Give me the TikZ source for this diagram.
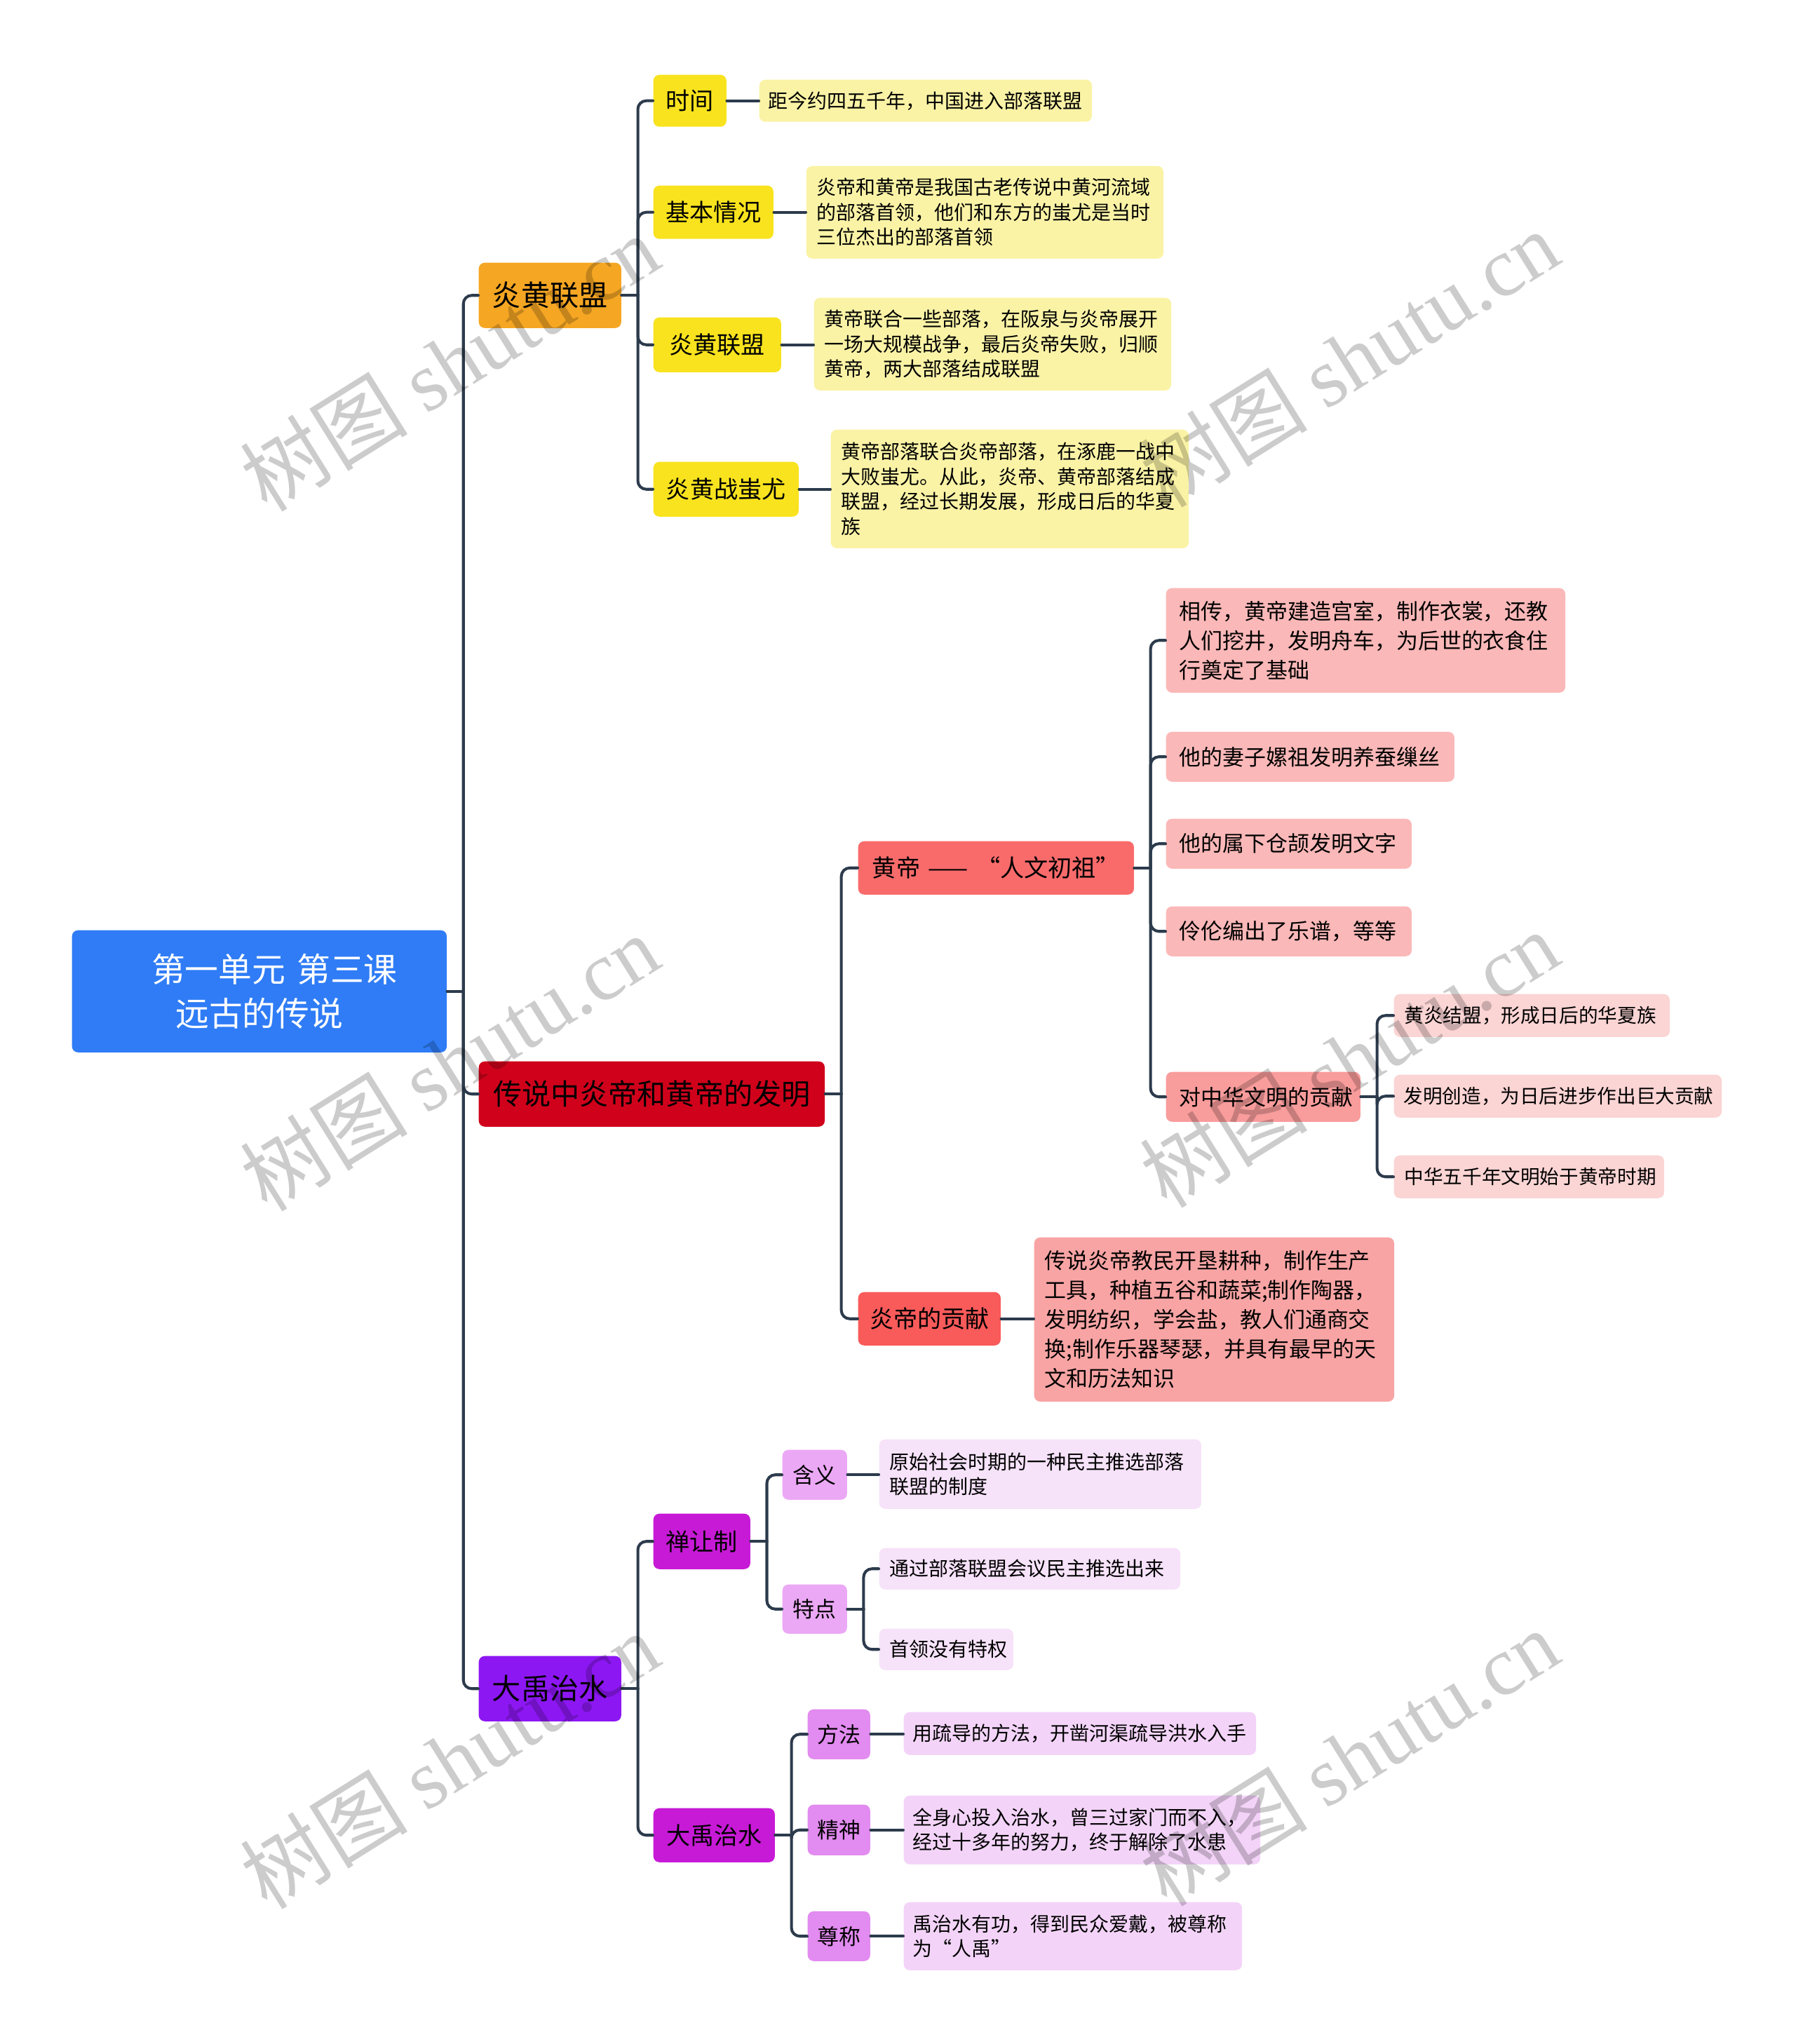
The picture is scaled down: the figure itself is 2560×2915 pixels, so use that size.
\documentclass[tikz,border=0pt]{standalone}
\usepackage{fontspec}
\setmainfont{Noto Sans CJK SC}
\newfontfamily\wmlatin{Liberation Serif}
\usetikzlibrary{calc}
\definecolor{cRoot}{HTML}{2F7CF6}
\definecolor{cOr}{HTML}{F5A623}
\definecolor{cYel}{HTML}{F8E31E}
\definecolor{cYelL}{HTML}{FAF3A6}
\definecolor{cRed}{HTML}{D0021B}
\definecolor{cPkA}{HTML}{F96B6B}
\definecolor{cPkB}{HTML}{F95A5A}
\definecolor{cPkC}{HTML}{FBB8B8}
\definecolor{cPkD}{HTML}{F99C9C}
\definecolor{cPkE}{HTML}{FBD4D4}
\definecolor{cPkF}{HTML}{F9A4A4}
\definecolor{cVio}{HTML}{8D17F3}
\definecolor{cMag}{HTML}{C71AD6}
\definecolor{cLilA}{HTML}{EBA8F5}
\definecolor{cLilB}{HTML}{E28BF0}
\definecolor{cLilC}{HTML}{F6E2F9}
\definecolor{cLilD}{HTML}{F3D4F8}
\definecolor{cLine}{HTML}{2C3B4C}
\newcommand{\fRoot}{\fontsize{13.6pt}{17.9pt}\selectfont}
\newcommand{\fA}{\fontsize{11.7pt}{14pt}\selectfont}
\newcommand{\fB}{\fontsize{9.7pt}{12pt}\selectfont}
\newcommand{\fC}{\fontsize{8.8pt}{11.95pt}\selectfont}
\newcommand{\fLeaf}{\fontsize{7.95pt}{10.1pt}\selectfont}
\newcommand{\fSm}{\fontsize{7.85pt}{10pt}\selectfont}
\newcommand{\bx}[8]{%
  \pgfmathsetmacro{\mybw}{(#5-#3)*0.28453}%
  \pgfmathsetmacro{\mybh}{(#6-#4)*0.28453}%
  \pgfmathsetmacro{\mytw}{(#5-#3-2*#7)*0.28453}%
  \node[#2, anchor=north west, minimum width=\mybw pt, minimum height=\mybh pt, text width=\mytw pt] (#1) at (#3,#4) {#8};}
\newcommand{\br}[2]{%
  \draw[conn] (#1.east) -- ++(23,0);
  \draw[conn, rounded corners=3.4pt] ($(#1.east)+(23,0)$) |- (#2.west);}
\newcommand{\lnk}[2]{\draw[conn] (#1.east) -- (#1.east -| #2.west);}
\begin{document}
\begin{tikzpicture}[x=0.01cm,y=-0.01cm,
  box/.style={rounded corners=2.4pt, inner sep=0pt, align=center, draw=none},
  rootbox/.style={box, fill=cRoot, text=white, font=\fRoot},
  lone/.style={box, font=\fA},
  ltwo/.style={box, font=\fB},
  lthree/.style={box, align=left, font=\fC},
  leafbox/.style={box, align=left, font=\fLeaf},
  smbox/.style={box, align=left, font=\fSm},
  conn/.style={draw=cLine, line width=1.15pt, line cap=round},
  wm/.style={rotate=32, text=black, text opacity=0.2, font=\fontsize{34pt}{34pt}\selectfont}]
\useasboundingbox (0,0) rectangle (2560,2915);

% root
\bx{root}{rootbox}{102}{1326}{636}{1500}{0}{\hspace*{0.9em}第一单元 第三课\\远古的传说}

% level 1
\bx{yh}{lone, fill=cOr}{682}{374}{885}{467}{0}{炎黄联盟}
\bx{cs}{lone, fill=cRed}{682}{1513}{1175}{1606}{0}{传说中炎帝和黄帝的发明}
\bx{dy}{lone, fill=cVio}{682}{2361}{885}{2454}{0}{大禹治水}

% yellow branch
\bx{ta}{ltwo, fill=cYel}{931}{106}{1035}{180}{0}{时间}
\bx{tb}{ltwo, fill=cYel}{931}{264}{1102}{340}{0}{基本情况}
\bx{tc}{ltwo, fill=cYel}{931}{452}{1113}{530}{0}{炎黄联盟}
\bx{td}{ltwo, fill=cYel}{931}{658}{1138}{736}{0}{炎黄战蚩尤}
\bx{ya}{leafbox, fill=cYelL}{1082}{113}{1556}{173}{13}{距今约四五千年，中国进入部落联盟}
\bx{yb}{leafbox, fill=cYelL}{1149}{236}{1658}{368}{15}{炎帝和黄帝是我国古老传说中黄河流域\\的部落首领，他们和东方的蚩尤是当时\\三位杰出的部落首领}
\bx{yc}{leafbox, fill=cYelL}{1160}{424}{1669}{556}{15}{黄帝联合一些部落，在阪泉与炎帝展开\\一场大规模战争，最后炎帝失败，归顺\\黄帝，两大部落结成联盟}
\bx{yd}{leafbox, fill=cYelL}{1184}{612}{1694}{781}{15}{黄帝部落联合炎帝部落，在涿鹿一战中\\大败蚩尤。从此，炎帝、黄帝部落结成\\联盟，经过长期发展，形成日后的华夏\\族}

% pink branch
\bx{hd}{ltwo, fill=cPkA}{1223}{1199}{1616}{1275}{0}{黄帝 —— “人文初祖”}
\bx{ydx}{ltwo, fill=cPkB}{1223}{1842}{1426}{1918}{0}{炎帝的贡献}
\bx{pa}{lthree, fill=cPkC}{1662}{838}{2231}{987}{19}{相传，黄帝建造宫室，制作衣裳，还教\\人们挖井，发明舟车，为后世的衣食住\\行奠定了基础}
\bx{pb}{lthree, fill=cPkC}{1662}{1043}{2073}{1114}{19}{他的妻子嫘祖发明养蚕缫丝}
\bx{pc}{lthree, fill=cPkC}{1662}{1167}{2012}{1238}{19}{他的属下仓颉发明文字}
\bx{pd}{lthree, fill=cPkC}{1662}{1292}{2012}{1363}{19}{伶伦编出了乐谱，等等}
\bx{pe}{lthree, fill=cPkD}{1662}{1528}{1939}{1599}{19}{对中华文明的贡献}
\bx{qa}{smbox, fill=cPkE}{1987}{1417}{2380}{1478}{15}{黄炎结盟，形成日后的华夏族}
\bx{qb}{smbox, fill=cPkE}{1987}{1532}{2454}{1593}{14}{发明创造，为日后进步作出巨大贡献}
\bx{qc}{smbox, fill=cPkE}{1987}{1647}{2372}{1708}{15}{中华五千年文明始于黄帝时期}
\bx{yl}{lthree, fill=cPkF}{1474}{1764}{1987}{1998}{15}{传说炎帝教民开垦耕种，制作生产\\工具，种植五谷和蔬菜;制作陶器，\\发明纺织，学会盐，教人们通商交\\换;制作乐器琴瑟，并具有最早的天\\文和历法知识}

% purple branch
\bx{sr}{ltwo, fill=cMag}{931}{2158}{1069}{2237}{0}{禅让制}
\bx{ds}{ltwo, fill=cMag}{931}{2578}{1104}{2655}{0}{大禹治水}
\bx{hy}{box, font=\fC, fill=cLilA}{1115}{2067}{1207}{2138}{0}{含义}
\bx{tdd}{box, font=\fC, fill=cLilA}{1115}{2259}{1207}{2329}{0}{特点}
\bx{ff}{box, font=\fC, fill=cLilB}{1151}{2437}{1240}{2508}{0}{方法}
\bx{js}{box, font=\fC, fill=cLilB}{1151}{2573}{1240}{2645}{0}{精神}
\bx{zc}{box, font=\fC, fill=cLilB}{1151}{2725}{1240}{2796}{0}{尊称}
\bx{ha}{leafbox, fill=cLilC}{1253}{2052}{1712}{2151}{15}{原始社会时期的一种民主推选部落\\联盟的制度}
\bx{ta1}{leafbox, fill=cLilC}{1253}{2207}{1682}{2266}{15}{通过部落联盟会议民主推选出来}
\bx{ta2}{leafbox, fill=cLilC}{1253}{2322}{1444}{2381}{15}{首领没有特权}
\bx{fa}{leafbox, fill=cLilD}{1288}{2441}{1790}{2502}{13}{用疏导的方法，开凿河渠疏导洪水入手}
\bx{ja}{leafbox, fill=cLilD}{1288}{2560}{1796}{2658}{13}{全身心投入治水，曾三过家门而不入，\\经过十多年的努力，终于解除了水患}
\bx{za}{leafbox, fill=cLilD}{1288}{2712}{1770}{2809}{13}{禹治水有功，得到民众爱戴，被尊称\\为“人禹”}

% connectors
\br{root}{yh}\br{root}{cs}\br{root}{dy}
\br{yh}{ta}\br{yh}{tb}\br{yh}{tc}\br{yh}{td}
\lnk{ta}{ya}\lnk{tb}{yb}\lnk{tc}{yc}\lnk{td}{yd}
\br{cs}{hd}\br{cs}{ydx}
\br{hd}{pa}\br{hd}{pb}\br{hd}{pc}\br{hd}{pd}\br{hd}{pe}
\br{pe}{qa}\br{pe}{qb}\br{pe}{qc}
\lnk{ydx}{yl}
\br{dy}{sr}\br{dy}{ds}
\br{sr}{hy}\br{sr}{tdd}
\lnk{hy}{ha}
\br{tdd}{ta1}\br{tdd}{ta2}
\br{ds}{ff}\br{ds}{js}\br{ds}{zc}
\lnk{ff}{fa}\lnk{js}{ja}\lnk{zc}{za}

% watermarks
\node[wm] (w1) at (641,517) {树图 {\wmlatin shutu.cn}};
\node[wm] (w2) at (1924,511) {树图 {\wmlatin shutu.cn}};
\node[wm] (w3) at (641,1515) {树图 {\wmlatin shutu.cn}};
\node[wm] (w4) at (1924,1510) {树图 {\wmlatin shutu.cn}};
\node[wm] (w5) at (641,2510) {树图 {\wmlatin shutu.cn}};
\node[wm] (w6) at (1924,2506) {树图 {\wmlatin shutu.cn}};
\end{tikzpicture}
\end{document}
